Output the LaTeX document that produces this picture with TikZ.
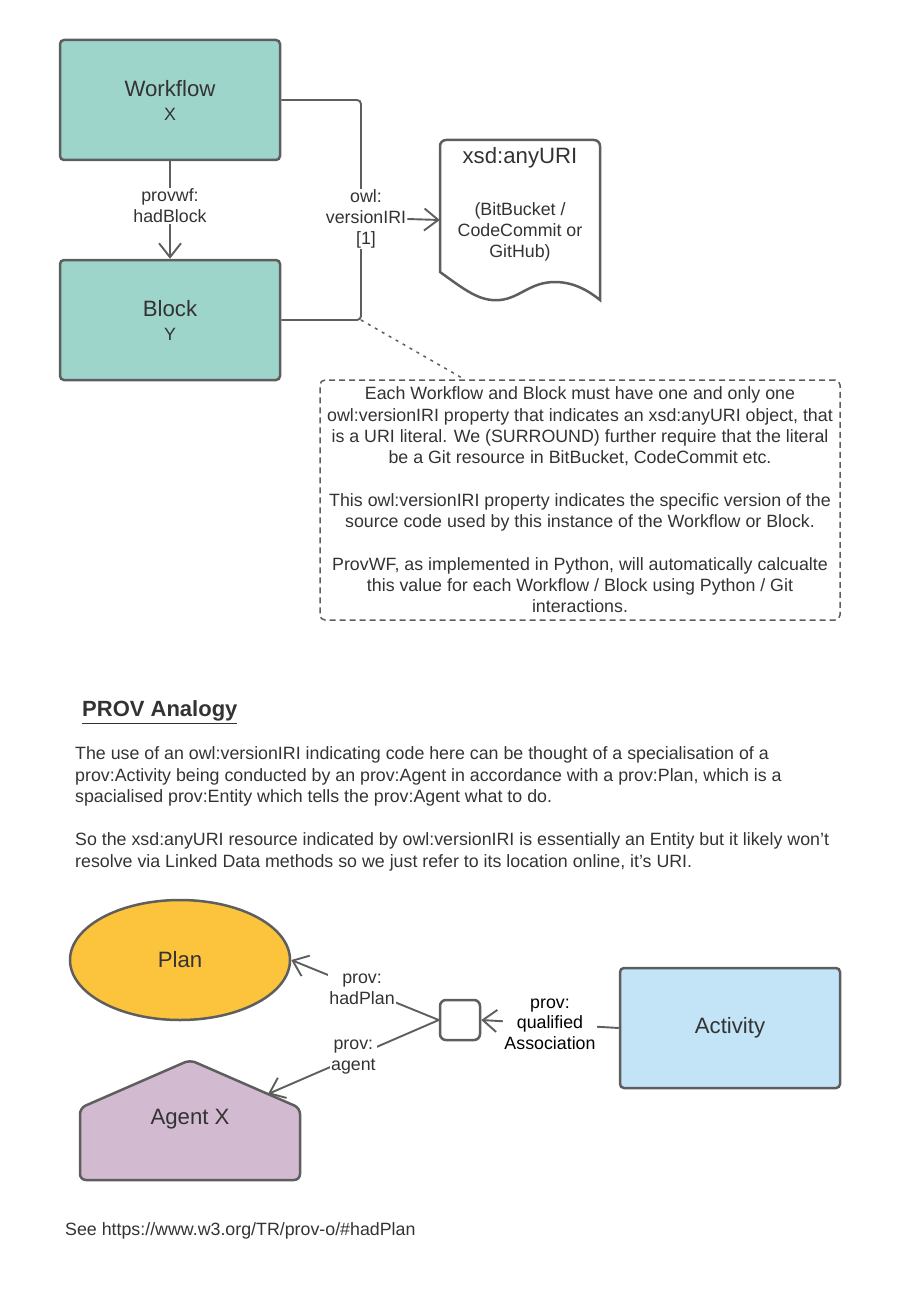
\documentclass[tikz,border=0pt]{standalone}
\usepackage{fontspec}
\setmainfont{Liberation Sans}
\usetikzlibrary{arrows.meta,calc,shapes.geometric}

\definecolor{edgegray}{HTML}{5E5E5E}
\definecolor{txtgray}{HTML}{333333}
\definecolor{wfteal}{HTML}{9ED5CB}
\definecolor{planyellow}{HTML}{FBC43C}
\definecolor{agentpurple}{HTML}{D2BAD0}
\definecolor{actblue}{HTML}{C2E4F6}

\newcommand{\bigtxt}{\fontsize{22.2}{25}\selectfont}
\newcommand{\smalltxt}{\fontsize{17.8}{21}\selectfont}

\tikzset{cls/.style={draw=edgegray,line width=2.5pt,rounded corners=4pt,minimum width=220pt,minimum height=120pt,align=center,text=txtgray,font=\fontsize{17.8}{25}\selectfont}}
\tikzset{link/.style={draw=edgegray,line width=1.9pt,-{Straight Barb[length=14pt,width=22pt]}}}
\tikzset{plain/.style={draw=edgegray,line width=1.9pt,rounded corners=4pt}}
\tikzset{lbl/.style={fill=white,inner sep=1pt,align=center,text=txtgray,font=\smalltxt}}
\tikzset{txt/.style={inner sep=0pt,text=txtgray,font=\smalltxt}}

\begin{document}
\begin{tikzpicture}[x=1pt,y=-1pt]
    \useasboundingbox (0,0) rectangle (910,1300);
    % upper part: workflow and block
    \node[cls,fill=wfteal] (wf)  at (170,100) {{\bigtxt Workflow}\\[-1pt]X};
    \node[cls,fill=wfteal] (blk) at (170,320) {{\bigtxt Block}\\[-1pt]Y};
    \draw[link] (wf.south) -- node[lbl,pos=0.46] {provwf:\\hadBlock} (blk.north);

    % document shape for the literal
    \node[minimum width=160pt,minimum height=160pt,inner sep=0pt] (uri) at (520,220) {};
    \draw[draw=edgegray,line width=2.5pt,fill=white]
      (440,272) [rounded corners=6pt] -- (440,140) -- (600,140) [sharp corners] -- (600,300)
      .. controls (590,292) and (575,282) .. (555,282)
      .. controls (530,282) and (520,298) .. (500,300)
      .. controls (480,302) and (465,290) .. (440,272) -- cycle;
    \node[txt,font=\bigtxt] (urititle) at (520,158) {xsd:anyURI};
    \node[txt,align=center] (urinote) at (520,232) {(BitBucket /\\CodeCommit or\\GitHub)};

    \coordinate (jn) at (361,219);
    \draw[plain] (wf.east) -| (jn);
    \draw[plain] (blk.east) -| (jn);
    \node[lbl] (vlbl) at (366,219) {owl:\\versionIRI\\{[1]}};
    \draw[link] (vlbl.east) -- (uri.west);

    % comment box
    \node[draw=edgegray,line width=1.5pt,dash pattern=on 6pt off 4pt,rounded corners=5pt,
          minimum width=520pt,minimum height=240pt,align=center,text=txtgray,
          font=\fontsize{17.8}{21.3}\selectfont] (note) at (580,500)
      {Each Workflow and Block must have one and only one\\
       owl:versionIRI property that indicates an xsd:anyURI object, that\\
       is a URI literal. We (SURROUND) further require that the literal\\
       be a Git resource in BitBucket, CodeCommit etc.\\[21.3pt]
       This owl:versionIRI property indicates the specific version of the\\
       source code used by this instance of the Workflow or Block.\\[21.3pt]
       ProvWF, as implemented in Python, will automatically calcualte\\
       this value for each Workflow / Block using Python / Git\\
       interactions.};
    \draw[edgegray,line width=1.5pt,dash pattern=on 3pt off 5pt] (blk.east -| jn) -- ([xshift=145pt]note.north west);

    % PROV analogy
    \node[txt,anchor=west,font=\fontsize{22}{25}\selectfont\bfseries] (head) at (82,712) {\underline{PROV Analogy}};
    \node[txt,anchor=west,align=left,font=\fontsize{17.8}{21.5}\selectfont] (para) at (75,809)
      {The use of an owl:versionIRI indicating code here can be thought of a specialisation of a\\
       prov:Activity being conducted by an prov:Agent in accordance with a prov:Plan, which is a\\
       spacialised prov:Entity which tells the prov:Agent what to do.\\[21.5pt]
       So the xsd:anyURI resource indicated by owl:versionIRI is essentially an Entity but it likely won't\\
       resolve via Linked Data methods so we just refer to its location online, it's URI.};

    \node[ellipse,draw=edgegray,line width=2.5pt,fill=planyellow,minimum width=220pt,minimum height=120pt,
          text=txtgray,font=\bigtxt] (plan) at (180,960) {Plan};
    \draw[draw=edgegray,line width=2.5pt,fill=agentpurple,rounded corners=6pt]
      (80,1180) -- (80,1108) -- (190,1060) -- (300,1108) -- (300,1180) -- cycle;
    \node[txt,font=\bigtxt] (agent) at (190,1119) {Agent X};
    \coordinate (roof) at (268,1094);
    \node[cls,fill=actblue,font=\bigtxt] (activity) at (730,1028) {Activity};
    \node[draw=edgegray,line width=2.5pt,rounded corners=6pt,minimum size=40pt,inner sep=0pt] (assoc) at (460,1020) {};

    \draw[link] (assoc.west) -- node[lbl,pos=0.52] {prov:\\hadPlan} (plan.east);
    \draw[link] (assoc.west) -- node[lbl,pos=0.5] {prov:\\agent} (roof);
    \draw[link] (activity.west) -- node[lbl,pos=0.5,text=black,font=\fontsize{17.8}{20.5}\selectfont] {prov:\\qualified\\Association} (assoc.east);

    \node[txt,anchor=west] (seeref) at (65,1231) {See https://www.w3.org/TR/prov-o/\#hadPlan};
\end{tikzpicture}
\end{document}
